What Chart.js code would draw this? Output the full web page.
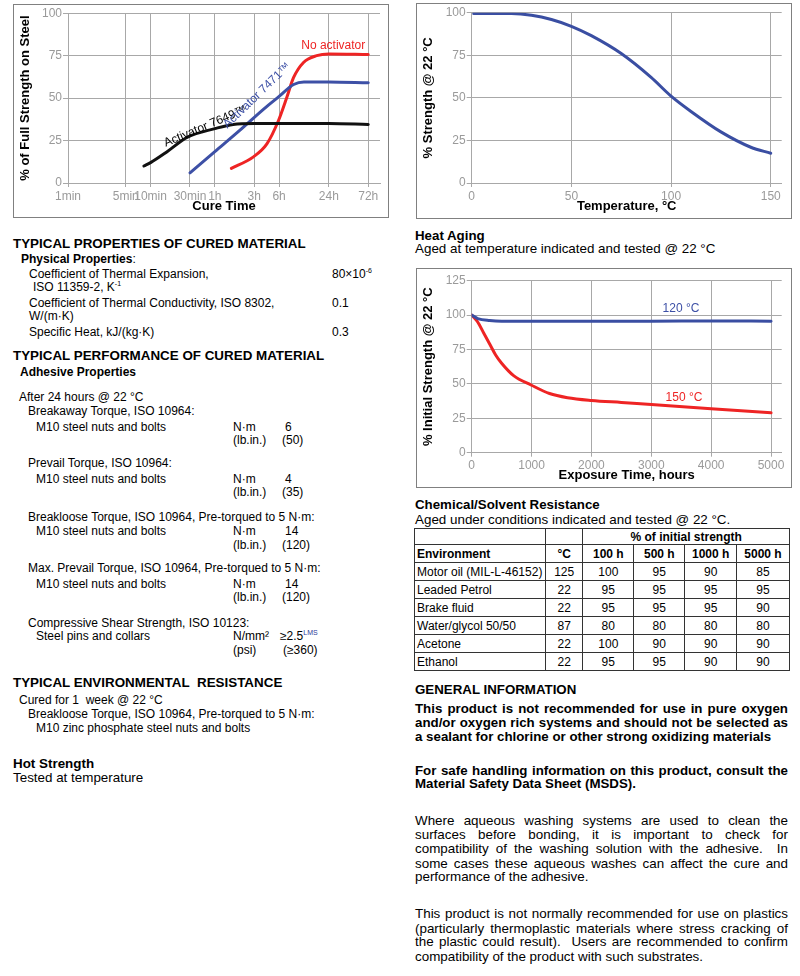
<!DOCTYPE html>
<html lang="en">
<head>
  <meta charset="UTF-8">
  <title>Technical Data Sheet - Cure, Hot Strength, Heat Aging</title>
  <script src="https://cdn.jsdelivr.net/npm/chart.js"></script>
  <style>
    body { margin: 0; background: #fff; font-family: Arial, "Liberation Sans", sans-serif; color: #000; }
    .page { position: relative; width: 800px; height: 976px; overflow: hidden; }
    .t { position: absolute; white-space: nowrap; font-size: 12px; line-height: 14px; }
    .h { font-weight: bold; font-size: 13.4px; line-height: 15px; }
    .s { font-weight: bold; }
    .r { font-size: 13.4px; line-height: 15px; }
    .rb { font-size: 13.3px; line-height: 15px; font-weight: bold; }
    .j { width: 373px; text-align: justify; text-align-last: justify; white-space: normal; }
    sup { font-size: 7px; vertical-align: 5px; line-height: 0; }
    .lms { color: #2b3a9a; }
    .box { position: absolute; border: 1.5px solid #808080; box-sizing: border-box; }
    .chart-wrap { position: absolute; }
    table.res { position: absolute; left: 414px; top: 528px; border-collapse: collapse; font-size: 12px; }
    table.res td { border: 1px solid #333; padding: 0 2px; text-align: center; height: 17px; line-height: 14px; }
    table.res tr.top td { height: 15px; }
    table.res td.env { text-align: left; }
    table.res tr.head td { font-weight: bold; }
  </style>
</head>
<body>
<div class="page">

  <!-- charts -->
  <div class="box" style="left:12.5px; top:3.5px; width:376px; height:214px;"></div>
  <div class="chart-wrap" style="left:14px; top:5px; width:373px; height:211px;"><canvas id="cureChart"></canvas></div>

  <div class="box" style="left:415.5px; top:2.5px; width:376px; height:216px;"></div>
  <div class="chart-wrap" style="left:417px; top:4px; width:373px; height:213px;"><canvas id="hotChart"></canvas></div>

  <div class="box" style="left:415.5px; top:267.5px; width:376px; height:220px;"></div>
  <div class="chart-wrap" style="left:417px; top:269px; width:373px; height:217px;"><canvas id="agingChart"></canvas></div>

  <!-- left column -->
  <div class="t h" style="left:13px; top:235.5px;">TYPICAL PROPERTIES OF CURED MATERIAL</div>
  <div class="t" style="left:21px; top:252px;"><b>Physical Properties</b>:</div>
  <div class="t" style="left:29px; top:267.3px;">Coefficient of Thermal Expansion,</div>
  <div class="t" style="left:332px; top:267.3px;">80×10<sup>-6</sup></div>
  <div class="t" style="left:33px; top:280.3px;">ISO 11359-2, K<sup>-1</sup></div>
  <div class="t" style="left:29px; top:295.7px;">Coefficient of Thermal Conductivity, ISO 8302,</div>
  <div class="t" style="left:332px; top:295.7px;">0.1</div>
  <div class="t" style="left:29px; top:308.7px;">W/(m·K)</div>
  <div class="t" style="left:29px; top:324.7px;">Specific Heat, kJ/(kg·K)</div>
  <div class="t" style="left:332px; top:324.7px;">0.3</div>

  <div class="t h" style="left:13px; top:348.2px;">TYPICAL PERFORMANCE OF CURED MATERIAL</div>
  <div class="t s" style="left:20px; top:364.7px;">Adhesive Properties</div>
  <div class="t" style="left:19px; top:389.7px;">After 24 hours @ 22 °C</div>

  <div class="t" style="left:28px; top:404px;">Breakaway Torque, ISO 10964:</div>
  <div class="t" style="left:36px; top:419.7px;">M10 steel nuts and bolts</div>
  <div class="t" style="left:233px; top:419.7px;">N·m</div>
  <div class="t" style="left:285px; top:419.7px;">6</div>
  <div class="t" style="left:233px; top:433px;">(lb.in.)</div>
  <div class="t" style="left:282px; top:433px;">(50)</div>

  <div class="t" style="left:28px; top:456.3px;">Prevail Torque, ISO 10964:</div>
  <div class="t" style="left:36px; top:471.7px;">M10 steel nuts and bolts</div>
  <div class="t" style="left:233px; top:471.7px;">N·m</div>
  <div class="t" style="left:285px; top:471.7px;">4</div>
  <div class="t" style="left:233px; top:485px;">(lb.in.)</div>
  <div class="t" style="left:282px; top:485px;">(35)</div>

  <div class="t" style="left:28px; top:509.7px;">Breakloose Torque, ISO 10964, Pre-torqued to 5 N·m:</div>
  <div class="t" style="left:36px; top:524px;">M10 steel nuts and bolts</div>
  <div class="t" style="left:233px; top:524px;">N·m</div>
  <div class="t" style="left:285px; top:524px;">14</div>
  <div class="t" style="left:233px; top:538px;">(lb.in.)</div>
  <div class="t" style="left:282px; top:538px;">(120)</div>

  <div class="t" style="left:28px; top:561.3px;">Max. Prevail Torque, ISO 10964, Pre-torqued to 5 N·m:</div>
  <div class="t" style="left:36px; top:577px;">M10 steel nuts and bolts</div>
  <div class="t" style="left:233px; top:577px;">N·m</div>
  <div class="t" style="left:285px; top:577px;">14</div>
  <div class="t" style="left:233px; top:589.7px;">(lb.in.)</div>
  <div class="t" style="left:282px; top:589.7px;">(120)</div>

  <div class="t" style="left:28px; top:615.7px;">Compressive Shear Strength, ISO 10123:</div>
  <div class="t" style="left:36px; top:628.7px;">Steel pins and collars</div>
  <div class="t" style="left:233px; top:628.7px;">N/mm²</div>
  <div class="t" style="left:280px; top:628.7px;">≥2.5<sup class="lms">LMS</sup></div>
  <div class="t" style="left:233px; top:643px;">(psi)</div>
  <div class="t" style="left:283px; top:643px;">(≥360)</div>

  <div class="t h" style="left:13px; top:674.8px;">TYPICAL ENVIRONMENTAL&nbsp; RESISTANCE</div>
  <div class="t" style="left:19px; top:693px;">Cured for 1&nbsp; week @ 22 °C</div>
  <div class="t" style="left:28px; top:707px;">Breakloose Torque, ISO 10964, Pre-torqued to 5 N·m:</div>
  <div class="t" style="left:36px; top:721.3px;">M10 zinc phosphate steel nuts and bolts</div>

  <div class="t h" style="left:13px; top:755.8px;">Hot Strength</div>
  <div class="t r" style="left:13px; top:769.8px;">Tested at temperature</div>

  <!-- right column -->
  <div class="t rb" style="left:415px; top:227.5px;">Heat Aging</div>
  <div class="t r" style="left:415px; top:240.8px;">Aged at temperature indicated and tested @ 22 °C</div>

  <div class="t rb" style="left:415px; top:496.5px;">Chemical/Solvent Resistance</div>
  <div class="t r" style="left:415px; top:511.8px;">Aged under conditions indicated and tested @ 22 °C.</div>
  <table class="res" id="resTable"></table>

  <div class="t rb" style="left:415px; top:681.5px;">GENERAL INFORMATION</div>
  <div class="t rb j" style="left:415px; top:700.8px;">This product is not recommended for use in pure oxygen</div>
  <div class="t rb j" style="left:415px; top:715.2px;">and/or oxygen rich systems and should not be selected as</div>
  <div class="t rb" style="left:415px; top:729.2px;">a sealant for chlorine or other strong oxidizing materials</div>

  <div class="t rb j" style="left:415px; top:762.5px;">For safe handling information on this product, consult the</div>
  <div class="t rb" style="left:415px; top:775.8px;">Material Safety Data Sheet (MSDS).</div>

  <div class="t r j" style="left:415px; top:812.5px;">Where aqueous washing systems are used to clean the</div>
  <div class="t r j" style="left:415px; top:826.8px;">surfaces before bonding, it is important to check for</div>
  <div class="t r j" style="left:415px; top:840.8px;">compatibility of the washing solution with the adhesive.&nbsp; In</div>
  <div class="t r j" style="left:415px; top:855.8px;">some cases these aqueous washes can affect the cure and</div>
  <div class="t r" style="left:415px; top:869.2px;">performance of the adhesive.</div>

  <div class="t r j" style="left:415px; top:905.8px;">This product is not normally recommended for use on plastics</div>
  <div class="t r j" style="left:415px; top:920.8px;">(particularly thermoplastic materials where stress cracking of</div>
  <div class="t r j" style="left:415px; top:934.2px;">the plastic could result).&nbsp; Users are recommended to confirm</div>
  <div class="t r" style="left:415px; top:949.2px;">compatibility of the product with such substrates.</div>
</div>

<script>
  // ---- cure speed vs time (minutes, log axis) ----
  const cureTickMinutes = [1, 5, 10, 30, 60, 180, 360, 1440, 4320];
  const cureTickLabels = ['1min', '5min', '10min', '30min', '1h', '3h', '6h', '24h', '72h'];
  const act7649Minutes = [8.3, 10, 15.7, 28, 60, 100, 180, 360, 1440, 4320];
  const act7649Strength = [10, 12, 18.3, 27, 32, 34.5, 35, 35, 35, 34.5];
  const act7471Minutes = [30, 60, 120, 240, 360, 540, 720, 1440, 4320];
  const act7471Strength = [6, 18.5, 31, 44, 51, 58, 59.5, 59.5, 59];
  const noActMinutes = [95, 176, 256, 354, 447, 538, 711, 1027, 1440, 4320];
  const noActStrength = [8.6, 15.4, 23, 36.8, 50.5, 62, 71, 75, 76, 75.7];

  // ---- hot strength ----
  const hotTempC = [1, 10, 20, 30, 40, 50, 60, 75, 90, 100, 110, 125, 140, 150];
  const hotStrength = [99.5, 99.5, 99.5, 98.5, 96, 92, 86.5, 76, 62, 51, 42, 30, 21, 17.5];
  const hotTicks = [0, 50, 100, 150];

  // ---- heat aging ----
  const aging120Hours = [0, 100, 300, 500, 1000, 2000, 3000, 4000, 5000];
  const aged120 = [100, 97.5, 96, 95.5, 95.5, 95.5, 95.5, 95.8, 95.5];
  const aging150Hours = [0, 100, 200, 300, 400, 500, 700, 1000, 1300, 1600, 2000, 2500, 3000, 4000, 5000];
  const aged150 = [100, 95, 87, 79, 71, 65, 56, 49, 43, 40, 38, 36.5, 35, 32, 29];
  const agingTicks = [0, 1000, 2000, 3000, 4000, 5000];

  // ---- chemical / solvent resistance ----
  const environments = ['Motor oil (MIL-L-46152)', 'Leaded Petrol', 'Brake fluid', 'Water/glycol 50/50', 'Acetone', 'Ethanol'];
  const envTempC = [125, 22, 22, 87, 22, 22];
  const exposureLabels = ['100 h', '500 h', '1000 h', '5000 h'];
  const after100h = [100, 95, 95, 80, 100, 95];
  const after500h = [95, 95, 95, 80, 90, 95];
  const after1000h = [90, 95, 95, 80, 90, 90];
  const after5000h = [85, 95, 90, 80, 90, 90];

  const FONT = 'Arial, "Liberation Sans", sans-serif';
  const RED = '#ee2424';
  const BLUE = '#3d50a6';
  const GRID = '#a8a8a8';
  const TICK = '#9a9a9a';

  Chart.defaults.font.family = FONT;
  Chart.defaults.animation = false;

  const pts = (xs, ys) => xs.map((x, i) => ({ x: x, y: ys[i] }));

  function line(data, color) {
    return {
      data: data, borderColor: color, borderWidth: 3, pointRadius: 0,
      tension: 0.4, cubicInterpolationMode: 'monotone', fill: false,
      borderCapStyle: 'round', borderJoinStyle: 'round'
    };
  }

  // text labels placed next to the curves (in data units)
  const curveLabels = {
    id: 'curveLabels',
    afterDatasetsDraw(chart, args, opts) {
      const ctx = chart.ctx, x = chart.scales.x, y = chart.scales.y;
      (opts.items || []).forEach(it => {
        ctx.save();
        ctx.translate(x.getPixelForValue(it.x), y.getPixelForValue(it.y));
        ctx.rotate((it.angle || 0) * Math.PI / 180);
        ctx.font = '12px ' + FONT;
        ctx.fillStyle = it.color;
        ctx.textAlign = 'center';
        ctx.textBaseline = 'middle';
        ctx.fillText(it.text, 0, 0);
        ctx.restore();
      });
    }
  };

  function yAxis(max, title, width) {
    return {
      min: 0, max: max,
      ticks: { stepSize: 25, color: TICK, padding: 1, font: { size: 12 } },
      grid: { color: GRID, tickLength: 5 },
      border: { color: GRID },
      title: { display: true, text: title, color: '#000', font: { size: 13, weight: 'bold' }, padding: { top: 3.5, bottom: 0 } },
      afterFit: s => { s.width = width; }
    };
  }

  function xTitle(text, pb) {
    return { display: true, text: text, color: '#000', font: { size: 13, weight: 'bold' }, padding: { top: 0, bottom: pb } };
  }

  function baseOptions() {
    return {
      responsive: true, maintainAspectRatio: false,
      plugins: { legend: { display: false }, tooltip: { enabled: false } }
    };
  }

  // cure chart
  const cureOpts = baseOptions();
  cureOpts.layout = { padding: { left: 0, top: 7, right: 7, bottom: 0 } };
  cureOpts.scales = {
    x: {
      type: 'logarithmic', min: 1, max: 6000,
      afterBuildTicks: s => { s.ticks = cureTickMinutes.map(v => ({ value: v })); },
      ticks: { color: TICK, autoSkip: false, maxRotation: 0, padding: 2, font: { size: 12 },
        callback: (v, i) => cureTickLabels[i] },
      grid: { color: GRID, tickLength: 4 },
      border: { color: GRID },
      title: xTitle('Cure Time', 2),
      afterFit: s => { s.height = 33; }
    },
    y: yAxis(100, '% of Full Strength on Steel', 54)
  };
  cureOpts.plugins.curveLabels = { items: [
    { text: 'No activator', x: 1630, y: 80.7, color: RED },
    { text: 'Activator 7649™', x: 46, y: 33.3, angle: -23, color: '#000' },
    { text: 'Activator 7471™', x: 195, y: 51.5, angle: -44, color: BLUE }
  ] };
  new Chart(document.getElementById('cureChart'), {
    type: 'line',
    data: { datasets: [
      line(pts(act7649Minutes, act7649Strength), '#111'),
      line(pts(act7471Minutes, act7471Strength), BLUE),
      line(pts(noActMinutes, noActStrength), RED)
    ] },
    options: cureOpts,
    plugins: [curveLabels]
  });

  // hot strength chart
  const hotOpts = baseOptions();
  hotOpts.layout = { padding: { left: 0, top: 8.7, right: 8.3, bottom: 0 } };
  hotOpts.scales = {
    x: {
      type: 'linear', min: 0, max: 155.5,
      afterBuildTicks: s => { s.ticks = hotTicks.map(v => ({ value: v })); },
      ticks: { color: TICK, maxRotation: 0, padding: 2, font: { size: 12 }, callback: v => String(v) },
      grid: { color: GRID, tickLength: 4 },
      border: { color: GRID },
      title: xTitle('Temperature, °C', 3.2),
      afterFit: s => { s.height = 34; }
    },
    y: yAxis(100, '% Strength @ 22 °C', 54.7)
  };
  new Chart(document.getElementById('hotChart'), {
    type: 'line',
    data: { datasets: [line(pts(hotTempC, hotStrength), '#3a4ea2')] },
    options: hotOpts
  });

  // heat aging chart
  const agingOpts = baseOptions();
  agingOpts.layout = { padding: { left: 0, top: 11.7, right: 8.3, bottom: 0 } };
  agingOpts.scales = {
    x: {
      type: 'linear', min: 0, max: 5178,
      afterBuildTicks: s => { s.ticks = agingTicks.map(v => ({ value: v })); },
      ticks: { color: TICK, maxRotation: 0, padding: 2, font: { size: 12 }, callback: v => String(v) },
      grid: { color: GRID, tickLength: 4 },
      border: { color: GRID },
      title: xTitle('Exposure Time, hours', 2.5),
      afterFit: s => { s.height = 33.3; }
    },
    y: yAxis(125, '% Initial Strength @ 22 °C', 54.7)
  };
  agingOpts.plugins.curveLabels = { items: [
    { text: '120 °C', x: 3496, y: 105, color: BLUE },
    { text: '150 °C', x: 3546, y: 39.8, color: RED }
  ] };
  new Chart(document.getElementById('agingChart'), {
    type: 'line',
    data: { datasets: [
      line(pts(aging120Hours, aged120), '#3a4ea2'),
      line(pts(aging150Hours, aged150), RED)
    ] },
    options: agingOpts,
    plugins: [curveLabels]
  });

  // resistance table
  const widths = [131, 37.3, 51, 51, 51.7, 53];
  const cols = [after100h, after500h, after1000h, after5000h];
  let html = '<tr class="top"><td class="env" style="border-right:0;width:' + (widths[0] - 5) + 'px"></td>' +
    '<td style="width:' + (widths[1] - 5) + 'px"></td>' +
    '<td colspan="4" style="font-weight:bold">% of initial strength</td></tr>';
  html += '<tr class="head"><td class="env">Environment</td><td>°C</td>' +
    exposureLabels.map((l, i) => '<td style="width:' + (widths[i + 2] - 5) + 'px">' + l + '</td>').join('') + '</tr>';
  environments.forEach((env, r) => {
    html += '<tr><td class="env">' + env + '</td><td>' + envTempC[r] + '</td>' +
      cols.map(c => '<td>' + c[r] + '</td>').join('') + '</tr>';
  });
  document.getElementById('resTable').innerHTML = html;
</script>
</body>
</html>
